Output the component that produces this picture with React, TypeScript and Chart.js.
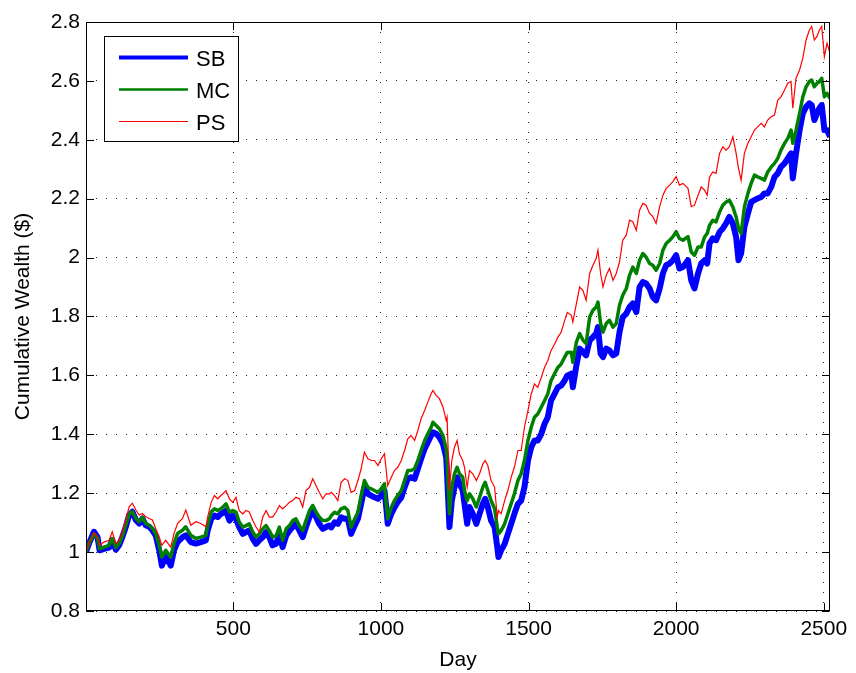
import React, { useEffect, useRef } from "react";
import { Chart, registerables } from "chart.js";

Chart.register(...registerables);

const days = [
  1, 11, 28, 40, 47, 62, 79, 90, 102, 113, 124, 136, 147, 158, 170, 181, 192, 203, 215, 226, 237, 249, 258, 271, 288, 299, 311, 328, 339, 356, 373, 390, 407,
  413, 425, 436, 447, 458, 470, 475, 487, 498, 509, 520, 532, 543, 554, 566, 577, 588, 600, 611, 622, 633, 645, 656, 667, 679, 690, 701, 712, 724, 735, 746, 758, 769, 780, 791, 803, 814, 825,
  832, 843, 854, 865, 877, 888, 899, 911, 922, 933, 944, 956, 967, 978, 990, 1001, 1012, 1018, 1023, 1035, 1046, 1057, 1069, 1080, 1091, 1102, 1114, 1125, 1136, 1148, 1159, 1170, 1176, 1187, 1198, 1210, 1221,
  1224, 1232, 1240, 1249, 1258, 1266, 1277, 1283, 1292, 1300, 1311, 1323, 1334, 1345, 1353, 1362, 1373, 1385, 1394, 1398, 1407, 1419, 1430, 1441, 1452, 1464, 1475, 1486, 1498, 1509, 1520, 1531, 1543, 1554, 1565, 1576, 1588, 1599, 1610, 1622, 1631,
  1645, 1650, 1662, 1673, 1684, 1695, 1707, 1718, 1729, 1735, 1744, 1752, 1763, 1774, 1786, 1797, 1808, 1819, 1831, 1842, 1853, 1865, 1876, 1887, 1898, 1910, 1921, 1932, 1944, 1955, 1966, 1978, 1989, 2000, 2011, 2023, 2040, 2051, 2062, 2074,
  2085, 2096, 2105, 2113, 2124, 2135, 2147, 2158, 2169, 2180, 2192, 2203, 2211, 2220, 2231, 2243, 2254, 2265, 2276, 2288, 2299, 2310, 2322, 2333, 2344, 2355, 2367, 2378, 2389, 2395, 2406, 2418, 2429, 2440, 2451, 2459, 2468, 2477, 2485, 2493, 2502, 2511, 2521,
];

const sbValues = [
  1.0, 1.029, 1.069, 1.051, 1.006, 1.011, 1.015, 1.04, 1.008, 1.023, 1.051, 1.086, 1.126, 1.137, 1.109, 1.097, 1.114, 1.091, 1.086, 1.074, 1.057, 1.006, 0.954, 0.989, 0.954, 1.006, 1.034, 1.051, 1.057, 1.034, 1.029, 1.034, 1.04,
  1.073, 1.113, 1.124, 1.119, 1.13, 1.136, 1.141, 1.107, 1.124, 1.113, 1.085, 1.062, 1.068, 1.073, 1.045, 1.028, 1.04, 1.051, 1.068, 1.051, 1.023, 1.028, 1.062, 1.017, 1.056, 1.073, 1.085, 1.096, 1.073, 1.051, 1.085, 1.119, 1.147, 1.119, 1.096, 1.079, 1.085, 1.09,
  1.084, 1.101, 1.096, 1.118, 1.113, 1.113, 1.062, 1.09, 1.113, 1.164, 1.22, 1.198, 1.192, 1.186, 1.181, 1.192, 1.209, 1.152, 1.096, 1.13, 1.152, 1.17, 1.186, 1.22, 1.249, 1.254, 1.249, 1.283, 1.317, 1.351, 1.373, 1.396, 1.407, 1.402, 1.39, 1.368, 1.322,
  1.266, 1.085, 1.175, 1.22, 1.254, 1.232, 1.209, 1.164, 1.096, 1.153, 1.13, 1.096, 1.13, 1.164, 1.181, 1.153, 1.107, 1.085, 1.017, 0.983, 1.006, 1.028, 1.062, 1.096, 1.13, 1.164, 1.175, 1.22, 1.311, 1.356, 1.379, 1.379, 1.401, 1.435, 1.458, 1.514, 1.537, 1.559, 1.565, 1.582, 1.599,
  1.606, 1.56, 1.634, 1.691, 1.68, 1.668, 1.719, 1.73, 1.742, 1.764, 1.674, 1.662, 1.691, 1.685, 1.668, 1.674, 1.747, 1.798, 1.81, 1.832, 1.844, 1.815, 1.9, 1.917, 1.912, 1.895, 1.866, 1.855, 1.895, 1.946, 1.974, 1.98, 1.991, 2.008, 1.963, 1.968, 1.991, 1.923, 1.895, 1.946,
  1.98, 1.991, 1.98, 2.048, 2.065, 2.059, 2.087, 2.099, 2.116, 2.138, 2.116, 2.07, 1.991, 2.014, 2.104, 2.15, 2.189, 2.195, 2.201, 2.206, 2.218, 2.218, 2.24, 2.274, 2.286, 2.308, 2.32, 2.337, 2.354, 2.269, 2.354, 2.433, 2.49, 2.512, 2.524, 2.518, 2.467, 2.49, 2.507, 2.518, 2.433, 2.433, 2.41,
];

const mcValues = [
  1.0, 1.029, 1.062, 1.048, 1.011, 1.017, 1.023, 1.046, 1.015, 1.029, 1.054, 1.091, 1.131, 1.137, 1.114, 1.103, 1.118, 1.097, 1.091, 1.08, 1.063, 1.023, 0.983, 1.006, 0.983, 1.029, 1.063, 1.074, 1.086, 1.057, 1.046, 1.051, 1.057,
  1.09, 1.136, 1.147, 1.141, 1.147, 1.158, 1.164, 1.136, 1.141, 1.136, 1.102, 1.085, 1.09, 1.096, 1.068, 1.051, 1.062, 1.079, 1.09, 1.073, 1.051, 1.056, 1.085, 1.04, 1.079, 1.09, 1.107, 1.113, 1.09, 1.073, 1.107, 1.141, 1.158, 1.136, 1.119, 1.107, 1.107, 1.113,
  1.124, 1.135, 1.13, 1.147, 1.152, 1.141, 1.084, 1.113, 1.135, 1.192, 1.243, 1.22, 1.215, 1.209, 1.203, 1.215, 1.232, 1.164, 1.113, 1.152, 1.175, 1.192, 1.209, 1.243, 1.277, 1.277, 1.283, 1.311, 1.345, 1.379, 1.402, 1.424, 1.441, 1.43, 1.419, 1.396, 1.351,
  1.311, 1.13, 1.22, 1.266, 1.288, 1.266, 1.254, 1.209, 1.175, 1.198, 1.181, 1.153, 1.186, 1.22, 1.237, 1.209, 1.175, 1.147, 1.085, 1.062, 1.073, 1.096, 1.13, 1.164, 1.198, 1.243, 1.266, 1.311, 1.379, 1.424, 1.458, 1.469, 1.492, 1.514, 1.537, 1.582, 1.605, 1.627, 1.638, 1.661, 1.678,
  1.679, 1.645, 1.713, 1.742, 1.72, 1.708, 1.798, 1.821, 1.832, 1.849, 1.776, 1.747, 1.776, 1.787, 1.764, 1.776, 1.838, 1.872, 1.895, 1.94, 1.968, 1.946, 1.991, 2.014, 2.002, 1.98, 1.974, 1.957, 1.98, 2.025, 2.048, 2.059, 2.071, 2.088, 2.065, 2.059, 2.071, 2.019, 2.008, 2.036,
  2.036, 2.07, 2.082, 2.11, 2.127, 2.121, 2.155, 2.178, 2.189, 2.195, 2.172, 2.138, 2.099, 2.082, 2.172, 2.218, 2.252, 2.28, 2.274, 2.269, 2.263, 2.291, 2.308, 2.32, 2.337, 2.365, 2.388, 2.405, 2.433, 2.388, 2.433, 2.49, 2.546, 2.58, 2.598, 2.603, 2.58, 2.592, 2.598, 2.609, 2.546, 2.558, 2.541,
];

const psValues = [
  1.0, 1.029, 1.066, 1.05, 1.023, 1.034, 1.04, 1.069, 1.029, 1.04, 1.069, 1.109, 1.154, 1.166, 1.143, 1.126, 1.131, 1.12, 1.114, 1.109, 1.08, 1.051, 1.023, 1.04, 1.017, 1.063, 1.097, 1.114, 1.143, 1.091, 1.103, 1.097, 1.086,
  1.119, 1.169, 1.192, 1.181, 1.192, 1.203, 1.209, 1.181, 1.169, 1.186, 1.141, 1.13, 1.141, 1.136, 1.107, 1.085, 1.068, 1.119, 1.141, 1.119, 1.119, 1.136, 1.158, 1.147, 1.158, 1.169, 1.175, 1.186, 1.181, 1.153, 1.209, 1.22, 1.249, 1.226, 1.203, 1.181, 1.198, 1.198,
  1.203, 1.192, 1.175, 1.237, 1.249, 1.243, 1.203, 1.209, 1.243, 1.283, 1.339, 1.317, 1.311, 1.311, 1.294, 1.317, 1.334, 1.277, 1.226, 1.254, 1.277, 1.288, 1.311, 1.345, 1.385, 1.396, 1.379, 1.413, 1.453, 1.481, 1.51, 1.538, 1.549, 1.532, 1.521, 1.493, 1.447,
  1.458, 1.209, 1.311, 1.356, 1.379, 1.333, 1.311, 1.288, 1.22, 1.277, 1.266, 1.243, 1.266, 1.299, 1.311, 1.294, 1.243, 1.22, 1.119, 1.141, 1.13, 1.175, 1.209, 1.254, 1.288, 1.345, 1.345, 1.424, 1.48, 1.537, 1.571, 1.559, 1.593, 1.627, 1.65, 1.684, 1.706, 1.729, 1.746, 1.785, 1.814,
  1.804, 1.781, 1.844, 1.9, 1.889, 1.855, 1.946, 1.974, 1.997, 2.025, 1.946, 1.9, 1.94, 1.963, 1.923, 1.946, 1.985, 2.059, 2.076, 2.127, 2.122, 2.093, 2.161, 2.184, 2.178, 2.15, 2.139, 2.116, 2.173, 2.212, 2.235, 2.246, 2.258, 2.275, 2.246, 2.252, 2.235, 2.173, 2.178, 2.212,
  2.24, 2.229, 2.212, 2.274, 2.291, 2.286, 2.354, 2.376, 2.365, 2.376, 2.41, 2.354, 2.303, 2.263, 2.354, 2.388, 2.41, 2.433, 2.444, 2.456, 2.444, 2.467, 2.478, 2.484, 2.535, 2.546, 2.569, 2.592, 2.598, 2.507, 2.609, 2.637, 2.677, 2.739, 2.773, 2.785, 2.739, 2.751, 2.773, 2.785, 2.683, 2.728, 2.694,
];

const seriesLabels = ["SB", "MC", "PS"];
const seriesColors = ["#0000ff", "#008000", "#ff0000"];
const xTickValues = [500, 1000, 1500, 2000, 2500];
const yTickValues = [0.8, 1.0, 1.2, 1.4, 1.6, 1.8, 2.0, 2.2, 2.4, 2.6, 2.8];

const FONT = "'Liberation Sans', Arial, Helvetica, sans-serif";

const framePlugin = {
  id: "matlabFrame",
  afterDatasetsDraw(chart: any) {
    const { ctx, chartArea: a, scales } = chart;
    const L = Math.round(a.left) + 0.5;
    const R = Math.round(a.right) - 0.5;
    const T = Math.round(a.top) + 0.5;
    const B = Math.round(a.bottom) - 0.5;
    const tl = 7.5;
    ctx.save();
    ctx.strokeStyle = "#000";
    ctx.lineWidth = 1;
    ctx.setLineDash([]);
    ctx.strokeRect(L, T, R - L, B - T);
    ctx.beginPath();
    for (const v of xTickValues) {
      const px = Math.round(scales.x.getPixelForValue(v)) + 0.5;
      ctx.moveTo(px, B);
      ctx.lineTo(px, B - tl);
      ctx.moveTo(px, T);
      ctx.lineTo(px, T + tl);
    }
    for (const v of yTickValues) {
      const py = Math.round(scales.y.getPixelForValue(v)) + 0.5;
      ctx.moveTo(L, py);
      ctx.lineTo(L + tl, py);
      ctx.moveTo(R, py);
      ctx.lineTo(R - tl, py);
    }
    ctx.stroke();
    ctx.restore();
  },
  afterDraw(chart: any) {
    const { ctx } = chart;
    const bx = 104.5, by = 36.5, bw = 134, bh = 105;
    const widths = [4, 2.5, 1];
    ctx.save();
    ctx.fillStyle = "#fff";
    ctx.fillRect(bx, by, bw, bh);
    ctx.strokeStyle = "#000";
    ctx.lineWidth = 1;
    ctx.setLineDash([]);
    ctx.strokeRect(bx, by, bw, bh);
    ctx.font = `22px ${FONT}`;
    ctx.textAlign = "left";
    ctx.textBaseline = "alphabetic";
    seriesLabels.forEach((lab, i) => {
      const cy = 57.5 + i * 32;
      ctx.beginPath();
      ctx.strokeStyle = seriesColors[i];
      ctx.lineWidth = widths[i];
      ctx.moveTo(119, cy);
      ctx.lineTo(188, cy);
      ctx.stroke();
      ctx.fillStyle = "#000";
      ctx.fillText(lab, 196, cy + 8);
    });
    ctx.restore();
  },
};

export default function App() {
  const canvasRef = useRef<HTMLCanvasElement | null>(null);

  useEffect(() => {
    if (!canvasRef.current) return;
    const mk = (vals: number[]) => days.map((d, i) => ({ x: d, y: vals[i] }));
    const chart = new Chart(canvasRef.current, {
      type: "line",
      data: {
        datasets: [
          { label: seriesLabels[0], data: mk(sbValues), borderColor: seriesColors[0], borderWidth: 6, pointRadius: 0, tension: 0, order: 2, borderJoinStyle: "round" },
          { label: seriesLabels[1], data: mk(mcValues), borderColor: seriesColors[1], borderWidth: 3.5, pointRadius: 0, tension: 0, order: 1, borderJoinStyle: "round" },
          { label: seriesLabels[2], data: mk(psValues), borderColor: seriesColors[2], borderWidth: 1.2, pointRadius: 0, tension: 0, order: 0 },
        ],
      },
      options: {
        responsive: false,
        animation: false,
        devicePixelRatio: 1,
        layout: { padding: { left: 0, right: 26, top: 22, bottom: 0 } },
        plugins: { legend: { display: false }, tooltip: { enabled: false } },
        scales: {
          x: {
            type: "linear",
            min: 1,
            max: 2521,
            afterBuildTicks: (s: any) => { s.ticks = xTickValues.map((v) => ({ value: v })); },
            afterFit: (s: any) => { s.height = 62; },
            ticks: { color: "#000", font: { family: FONT, size: 21 }, padding: 6, maxRotation: 0, autoSkip: false, callback: (v: any) => String(v) },
            grid: { color: "#222", lineWidth: 1, drawTicks: false },
            border: { display: false, dash: [1, 9] },
            title: { display: true, text: "Day", color: "#000", font: { family: FONT, size: 21 }, padding: { top: 0, bottom: 0 } },
          },
          y: {
            type: "linear",
            min: 0.8,
            max: 2.8,
            afterBuildTicks: (s: any) => { s.ticks = yTickValues.map((v) => ({ value: v })); },
            afterFit: (s: any) => { s.width = 86; },
            ticks: { color: "#000", font: { family: FONT, size: 21 }, padding: 6, autoSkip: false, callback: (v: any) => String(parseFloat(Number(v).toFixed(1))) },
            grid: { color: "#222", lineWidth: 1, drawTicks: false },
            border: { display: false, dash: [1, 9] },
            title: { display: true, text: "Cumulative Wealth ($)", color: "#000", font: { family: FONT, size: 21 }, padding: { top: 11, bottom: 0 } },
          },
        },
      },
      plugins: [framePlugin],
    } as any);
    return () => chart.destroy();
  }, []);

  return (
    <div style={{ position: "fixed", left: 0, top: 0, width: 856, height: 673, background: "#fff" }}>
      <canvas ref={canvasRef} width={856} height={673} style={{ display: "block" }} />
    </div>
  );
}
